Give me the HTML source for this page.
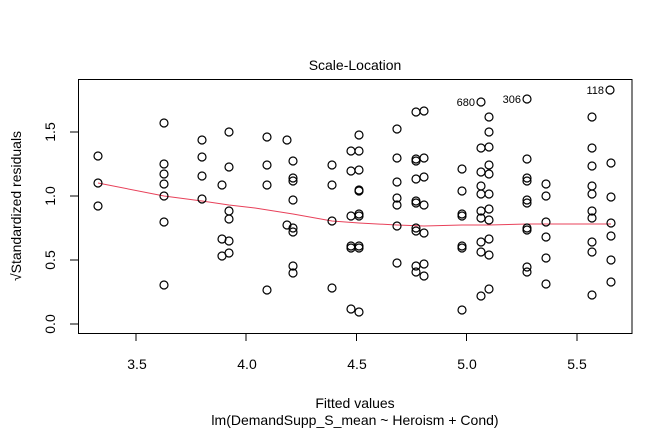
<!DOCTYPE html>
<html><head><meta charset="utf-8"><style>
html,body{margin:0;padding:0;background:#fff;}
svg{display:block;font-family:"Liberation Sans",Arial,sans-serif;}
</style></head><body>
<svg width="672" height="432" viewBox="0 0 672 432" xmlns="http://www.w3.org/2000/svg">
<rect x="78.5" y="79.5" width="553.5" height="254" fill="none" stroke="#000" stroke-width="1"/>
<g stroke="#000" stroke-width="1">
<line x1="136" y1="333" x2="136" y2="341"/><line x1="246" y1="333" x2="246" y2="341"/><line x1="356.5" y1="333" x2="356.5" y2="341"/><line x1="466.5" y1="333" x2="466.5" y2="341"/><line x1="577" y1="333" x2="577" y2="341"/>
<line x1="70" y1="324" x2="78" y2="324"/><line x1="70" y1="260" x2="78" y2="260"/><line x1="70" y1="196" x2="78" y2="196"/><line x1="70" y1="132" x2="78" y2="132"/>
</g>
<g font-size="14" text-anchor="middle" fill="#000">
<text x="137" y="369">3.5</text><text x="247" y="369">4.0</text><text x="357" y="369">4.5</text><text x="467" y="369">5.0</text><text x="577" y="369">5.5</text>
<text x="355" y="408">Fitted values</text>
<text x="355" y="425">lm(DemandSupp_S_mean ~ Heroism + Cond)</text>
<text x="355" y="70" font-size="14">Scale-Location</text>
<g transform="rotate(-90)">
<text x="-324" y="55">0.0</text><text x="-260" y="55">0.5</text><text x="-196" y="55">1.0</text><text x="-132" y="55">1.5</text>
<text x="-206" y="21">√Standardized residuals</text>
</g>
</g>
<polyline fill="none" stroke="#e8415a" stroke-width="1" points="98,183 164,196 202,201 229,205 255,208 293,214 332,221 359,223 397,225 424,226 462,225 489,225 527,224 611,224"/>
<g fill="none" stroke="#000" stroke-width="1.2">
<circle cx="98" cy="156" r="4"/><circle cx="98" cy="183" r="4"/><circle cx="98" cy="206" r="4"/>
<circle cx="164" cy="123" r="4"/><circle cx="164" cy="164" r="4"/><circle cx="164" cy="174" r="4"/><circle cx="164" cy="184" r="4"/><circle cx="164" cy="196" r="4"/><circle cx="164" cy="222" r="4"/><circle cx="164" cy="285" r="4"/>
<circle cx="202" cy="140" r="4"/><circle cx="202" cy="157" r="4"/><circle cx="202" cy="176" r="4"/><circle cx="202" cy="199" r="4"/>
<circle cx="222" cy="185" r="4"/><circle cx="222" cy="239" r="4"/><circle cx="222" cy="256" r="4"/>
<circle cx="229" cy="132" r="4"/><circle cx="229" cy="167" r="4"/><circle cx="229" cy="211" r="4"/><circle cx="229" cy="219" r="4"/><circle cx="229" cy="241" r="4"/><circle cx="229" cy="253" r="4"/>
<circle cx="267" cy="137" r="4"/><circle cx="267" cy="165" r="4"/><circle cx="267" cy="185" r="4"/><circle cx="267" cy="290" r="4"/>
<circle cx="287" cy="140" r="4"/><circle cx="287" cy="225" r="4"/>
<circle cx="293" cy="161" r="4"/><circle cx="293" cy="178" r="4"/><circle cx="293" cy="181" r="4"/><circle cx="293" cy="200" r="4"/><circle cx="293" cy="228" r="4"/><circle cx="293" cy="232" r="4"/><circle cx="293" cy="266" r="4"/><circle cx="293" cy="273" r="4"/>
<circle cx="332" cy="165" r="4"/><circle cx="332" cy="185" r="4"/><circle cx="332" cy="221" r="4"/><circle cx="332" cy="288" r="4"/>
<circle cx="351" cy="151" r="4"/><circle cx="351" cy="171" r="4"/><circle cx="351" cy="216" r="4"/><circle cx="351" cy="246" r="4"/><circle cx="351" cy="248" r="4"/><circle cx="351" cy="309" r="4"/>
<circle cx="359" cy="135" r="4"/><circle cx="359" cy="151" r="4"/><circle cx="359" cy="170" r="4"/><circle cx="359" cy="190" r="4"/><circle cx="359" cy="191" r="4"/><circle cx="359" cy="214" r="4"/><circle cx="359" cy="216" r="4"/><circle cx="359" cy="246" r="4"/><circle cx="359" cy="248" r="4"/><circle cx="359" cy="312" r="4"/>
<circle cx="397" cy="129" r="4"/><circle cx="397" cy="158" r="4"/><circle cx="397" cy="182" r="4"/><circle cx="397" cy="198" r="4"/><circle cx="397" cy="205" r="4"/><circle cx="397" cy="226" r="4"/><circle cx="397" cy="263" r="4"/>
<circle cx="416" cy="112" r="4"/><circle cx="416" cy="159" r="4"/><circle cx="416" cy="161" r="4"/><circle cx="416" cy="179" r="4"/><circle cx="416" cy="201" r="4"/><circle cx="416" cy="203" r="4"/><circle cx="416" cy="228" r="4"/><circle cx="416" cy="231" r="4"/><circle cx="416" cy="266" r="4"/><circle cx="416" cy="272" r="4"/>
<circle cx="424" cy="111" r="4"/><circle cx="424" cy="158" r="4"/><circle cx="424" cy="177" r="4"/><circle cx="424" cy="205" r="4"/><circle cx="424" cy="233" r="4"/><circle cx="424" cy="264" r="4"/><circle cx="424" cy="276" r="4"/>
<circle cx="462" cy="169" r="4"/><circle cx="462" cy="191" r="4"/><circle cx="462" cy="214" r="4"/><circle cx="462" cy="216" r="4"/><circle cx="462" cy="246" r="4"/><circle cx="462" cy="248" r="4"/><circle cx="462" cy="310" r="4"/>
<circle cx="481" cy="102" r="4"/><circle cx="481" cy="148" r="4"/><circle cx="481" cy="172" r="4"/><circle cx="481" cy="186" r="4"/><circle cx="481" cy="194" r="4"/><circle cx="481" cy="211" r="4"/><circle cx="481" cy="218" r="4"/><circle cx="481" cy="242" r="4"/><circle cx="481" cy="252" r="4"/><circle cx="481" cy="296" r="4"/>
<circle cx="489" cy="117" r="4"/><circle cx="489" cy="132" r="4"/><circle cx="489" cy="147" r="4"/><circle cx="489" cy="165" r="4"/><circle cx="489" cy="174" r="4"/><circle cx="489" cy="194" r="4"/><circle cx="489" cy="209" r="4"/><circle cx="489" cy="220" r="4"/><circle cx="489" cy="239" r="4"/><circle cx="489" cy="255" r="4"/><circle cx="489" cy="289" r="4"/>
<circle cx="527" cy="99" r="4"/><circle cx="527" cy="159" r="4"/><circle cx="527" cy="178" r="4"/><circle cx="527" cy="181" r="4"/><circle cx="527" cy="200" r="4"/><circle cx="527" cy="203" r="4"/><circle cx="527" cy="228" r="4"/><circle cx="527" cy="230" r="4"/><circle cx="527" cy="267" r="4"/><circle cx="527" cy="272" r="4"/>
<circle cx="546" cy="184" r="4"/><circle cx="546" cy="196" r="4"/><circle cx="546" cy="222" r="4"/><circle cx="546" cy="237" r="4"/><circle cx="546" cy="258" r="4"/><circle cx="546" cy="284" r="4"/>
<circle cx="592" cy="117" r="4"/><circle cx="592" cy="148" r="4"/><circle cx="592" cy="166" r="4"/><circle cx="592" cy="186" r="4"/><circle cx="592" cy="194" r="4"/><circle cx="592" cy="211" r="4"/><circle cx="592" cy="218" r="4"/><circle cx="592" cy="242" r="4"/><circle cx="592" cy="252" r="4"/><circle cx="592" cy="295" r="4"/>
<circle cx="610" cy="90" r="4"/><circle cx="611" cy="163" r="4"/><circle cx="611" cy="197" r="4"/><circle cx="611" cy="223" r="4"/><circle cx="611" cy="236" r="4"/><circle cx="611" cy="260" r="4"/><circle cx="611" cy="282" r="4"/>
</g>
<g font-size="11" text-anchor="end" fill="#000">
<text x="475" y="106">680</text><text x="521" y="103">306</text><text x="604" y="94">118</text>
</g>
</svg>
</body></html>
